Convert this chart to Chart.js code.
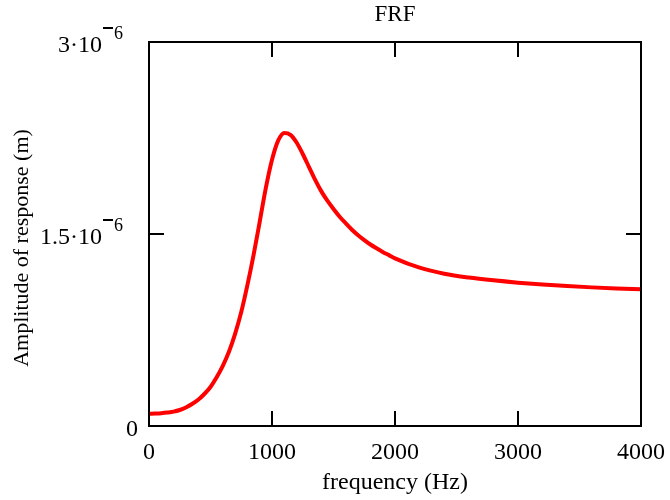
<!DOCTYPE html>
<html>
<head>
<meta charset="utf-8">
<script src="https://cdn.jsdelivr.net/npm/chart.js@4/dist/chart.umd.min.js"></script>
<style>
  body { margin: 0; background: #fff; }
</style>
</head>
<body>
<canvas id="frf" width="670" height="500"></canvas>
<script>
'use strict';

// frequencia (Hz) e amplitude (m)
var frequencias = [0, 50, 100, 150, 200, 250, 300, 350, 400, 450, 500, 550, 600, 650, 700, 750, 800, 850, 900, 950,
  1000, 1050, 1100, 1150, 1200, 1250, 1300, 1350, 1400, 1450, 1500, 1550, 1600, 1650, 1700, 1750, 1800, 1850, 1900, 1950,
  2000, 2200, 2400, 2600, 2800, 3000, 3200, 3400, 3600, 3800, 4000];
var amplitudes = [0.095e-6, 0.097e-6, 0.100e-6, 0.105e-6, 0.112e-6, 0.125e-6, 0.145e-6, 0.172e-6, 0.205e-6, 0.250e-6,
  0.305e-6, 0.380e-6, 0.470e-6, 0.580e-6, 0.720e-6, 0.890e-6, 1.100e-6, 1.335e-6, 1.595e-6, 1.860e-6,
  2.080e-6, 2.230e-6, 2.290e-6, 2.275e-6, 2.215e-6, 2.125e-6, 2.025e-6, 1.925e-6, 1.835e-6, 1.760e-6,
  1.695e-6, 1.635e-6, 1.583e-6, 1.533e-6, 1.490e-6, 1.452e-6, 1.418e-6, 1.388e-6, 1.360e-6, 1.335e-6,
  1.310e-6, 1.237e-6, 1.190e-6, 1.160e-6, 1.138e-6, 1.120e-6, 1.105e-6, 1.093e-6, 1.083e-6, 1.075e-6, 1.068e-6];

var ticksX = [0, 1000, 2000, 3000, 4000];
var rotulosX = ['0', '1000', '2000', '3000', '4000'];
var ticksY = [0, 1.5e-6, 3e-6];
var rotulosY = [['0', ''], ['1.5\u00b710', '6'], ['3\u00b710', '6']];

var fonte = '"Liberation Serif", "DejaVu Serif", serif';

var pontos = frequencias.map(function (f, i) {
  return { x: f, y: amplitudes[i] };
});

var moldura = {
  id: 'moldura',
  afterDraw: function (chart) {
    var ctx = chart.ctx;
    var area = chart.chartArea;
    var sx = chart.scales.x;
    var sy = chart.scales.y;
    var tam = 15;

    ctx.save();
    ctx.strokeStyle = '#000';
    ctx.lineWidth = 2;
    ctx.strokeRect(area.left, area.top, area.right - area.left, area.bottom - area.top);

    ctx.beginPath();
    ticksX.forEach(function (v) {
      var px = sx.getPixelForValue(v);
      ctx.moveTo(px, area.bottom);
      ctx.lineTo(px, area.bottom - tam);
      ctx.moveTo(px, area.top);
      ctx.lineTo(px, area.top + tam);
    });
    ticksY.forEach(function (v) {
      var py = sy.getPixelForValue(v);
      ctx.moveTo(area.left, py);
      ctx.lineTo(area.left + tam, py);
      ctx.moveTo(area.right, py);
      ctx.lineTo(area.right - tam, py);
    });
    ctx.stroke();

    ctx.fillStyle = '#000';
    ctx.font = '24px ' + fonte;
    ctx.textAlign = 'center';
    ctx.textBaseline = 'middle';
    ticksX.forEach(function (v, i) {
      ctx.fillText(rotulosX[i], sx.getPixelForValue(v), area.bottom + 27);
    });

    ticksY.forEach(function (v, i) {
      var py = sy.getPixelForValue(v);
      var base = rotulosY[i][0];
      var sup = rotulosY[i][1];
      ctx.textAlign = 'right';
      if (sup === '') {
        ctx.font = '24px ' + fonte;
        ctx.fillText(base, area.left - 11, py + 4);
        return;
      }
      // expoente: traco alto + digito menor
      ctx.font = '18px ' + fonte;
      var xFim = area.left - 26;
      var wSup = ctx.measureText(sup).width;
      ctx.fillText(sup, xFim, py - 8);
      ctx.fillRect(xFim - wSup - 11, py - 15, 10, 2);
      ctx.font = '24px ' + fonte;
      ctx.fillText(base, xFim - wSup - 12, py + 4);
    });

    ctx.font = '24px ' + fonte;
    ctx.textAlign = 'center';
    ctx.fillText('frequency (Hz)', (area.left + area.right) / 2, 483);

    ctx.font = '22px ' + fonte;
    ctx.translate(22, 248);
    ctx.rotate(-Math.PI / 2);
    ctx.fillText('Amplitude of response (m)', 0, 0);
    ctx.restore();
  }
};

var ctx = document.getElementById('frf');
var chart = new Chart(ctx, {
  type: 'line',
  data: {
    datasets: [{
      data: pontos,
      borderColor: '#ff0000',
      borderWidth: 4,
      pointRadius: 0,
      fill: false,
      cubicInterpolationMode: 'monotone'
    }]
  },
  options: {
    responsive: false,
    animation: false,
    layout: {
      padding: { left: 149, right: 29, top: 0, bottom: 74 }
    },
    plugins: {
      legend: { display: false },
      tooltip: { enabled: false },
      title: {
        display: true,
        text: 'FRF',
        color: '#000',
        font: { family: fonte, size: 23, weight: 'normal', lineHeight: 1.2 },
        padding: { top: 1, bottom: 13.4 }
      }
    },
    scales: {
      x: { type: 'linear', display: false, min: 0, max: 4000 },
      y: { type: 'linear', display: false, min: 0, max: 3e-6 }
    }
  },
  plugins: [moldura]
});
</script>
</body>
</html>
